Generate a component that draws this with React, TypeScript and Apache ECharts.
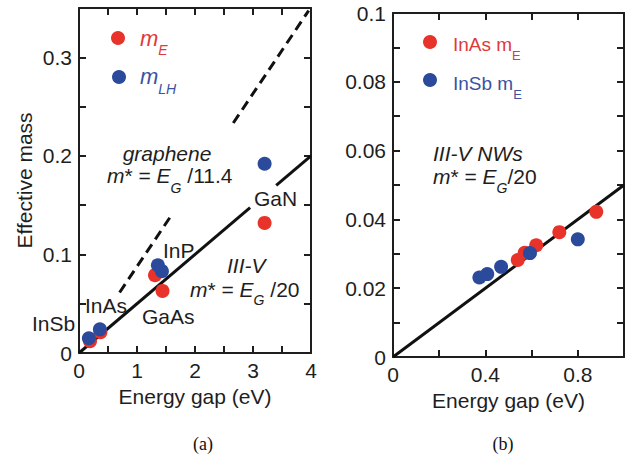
import React, { useEffect, useRef } from "react";
import * as echarts from "echarts";

// ---------- data ----------
// (a) bulk semiconductors
const bulkGapE = [0.19, 0.37, 1.31, 1.44, 3.2];
const bulkMassE = [0.012, 0.021, 0.079, 0.063, 0.132];
const bulkGapLH = [0.17, 0.36, 1.36, 1.43, 3.2];
const bulkMassLH = [0.015, 0.024, 0.089, 0.083, 0.192];
// (b) nanowires
const nwGapInAs = [0.54, 0.57, 0.62, 0.72, 0.88];
const nwMassInAs = [0.0282, 0.0303, 0.0325, 0.0363, 0.0422];
const nwGapInSb = [0.374, 0.408, 0.468, 0.593, 0.8];
const nwMassInSb = [0.0231, 0.0241, 0.0262, 0.0302, 0.0342];
// fit lines m* = E_G / k, drawn over these E_G segments
const slopeIII_V = 20;
const slopeGraphene = 11.4;
const solidSegmentsA = [[0, 2.95], [3.4, 4]];
const dashedSegmentsA = [[0.7, 1.6], [2.66, 3.96]];
const solidSegmentsB = [[0, 1]];
// axis tick labels
const xTicksA = ["0", "1", "2", "3", "4"];
const yTicksA = ["0", "0.1", "0.2", "0.3"];
const xTicksB = ["0", "0.4", "0.8"];
const yTicksB = ["0", "0.02", "0.04", "0.06", "0.08", "0.1"];

const FONT = '"Liberation Sans", Arial, Helvetica, sans-serif';
const SERIF = '"Liberation Serif", "Times New Roman", serif';
const RED = "#e8332b";
const BLUE = "#2b4a9c";
const TXT_RED = "#e0393a";
const TXT_BLUE = "#3a52a3";
const INK = "#1e1e1e";

const pick = (labels: string[]) => (v: number) => {
  const s = String(+v.toFixed(6));
  return labels.includes(s) ? s : "";
};

function axisBase(labels: string[] | null) {
  return {
    type: "value" as const,
    splitLine: { show: false },
    axisLine: { show: true, onZero: false, lineStyle: { color: INK, width: 2 } },
    axisTick: { show: true, inside: true, length: 7, lineStyle: { color: INK, width: 2 } },
    axisLabel: labels
      ? { show: true, formatter: pick(labels), fontSize: 21, color: INK, fontFamily: FONT, margin: 7 }
      : { show: false },
  };
}

function lineSeries(segs: number[][], k: number, xi: number, dashed: boolean) {
  return segs.map((s) => ({
    type: "line",
    xAxisIndex: xi,
    yAxisIndex: xi,
    data: [
      [s[0], s[0] / k],
      [s[1], s[1] / k],
    ],
    showSymbol: false,
    symbol: "none",
    lineStyle: { color: "#111", width: 3, type: dashed ? [10, 6] : "solid" },
    z: 2,
    silent: true,
  }));
}

function scatter(xs: number[], ys: number[], color: string, xi: number, z: number) {
  return {
    type: "scatter",
    xAxisIndex: xi,
    yAxisIndex: xi,
    data: xs.map((x, i) => [x, ys[i]]),
    symbolSize: 14,
    itemStyle: { color, opacity: 1 },
    z,
    silent: true,
  };
}

function rich(x: number, baseline: number, text: string, size: number, subSize: number, drop: number, color: string, align = "left") {
  const pad = 2 * drop;
  return {
    type: "text",
    x,
    y: baseline - 0.31 * size,
    silent: true,
    style: {
      text,
      align,
      verticalAlign: "middle",
      fontFamily: FONT,
      fontSize: size,
      fill: color,
      rich: {
        i: { fontStyle: "italic", fontSize: size, fill: color, fontFamily: FONT },
        n: { fontSize: size, fill: color, fontFamily: FONT },
        s: { fontStyle: "italic", fontSize: subSize, fill: color, fontFamily: FONT, padding: [pad, 0, 0, 0], lineHeight: size },
        sn: { fontSize: subSize, fill: color, fontFamily: FONT, padding: [pad, 0, 0, 0], lineHeight: size },
      },
    },
  };
}

function plain(x: number, baseline: number, text: string, size: number, color: string, italic = false, align = "left", family = FONT) {
  return {
    type: "text",
    x,
    y: baseline - 0.31 * size,
    silent: true,
    style: {
      text,
      align,
      verticalAlign: "middle",
      fontFamily: family,
      fontSize: size,
      fontStyle: italic ? "italic" : "normal",
      fill: color,
    },
  };
}

export default function App() {
  const ref = useRef<HTMLDivElement>(null);
  useEffect(() => {
    if (!ref.current) return;
    const chart = echarts.init(ref.current, null, { renderer: "svg" });
    const option: any = {
      animation: false,
      backgroundColor: "#ffffff",
      grid: [
        { left: 79, top: 8, width: 232, height: 345 },
        { left: 393, top: 13, width: 231, height: 344 },
      ],
      xAxis: [
        {
          ...axisBase(xTicksA),
          gridIndex: 0,
          position: "bottom",
          min: 0,
          max: 4,
          interval: 0.5,
          name: "Energy gap (eV)",
          nameLocation: "middle",
          nameGap: 33,
          nameTextStyle: { fontSize: 21, color: INK, fontFamily: FONT },
        },
        { ...axisBase(null), gridIndex: 0, position: "top", min: 0, max: 4, interval: 0.5 },
        {
          ...axisBase(xTicksB),
          gridIndex: 1,
          position: "bottom",
          min: 0,
          max: 1,
          interval: 0.2,
          name: "Energy gap (eV)",
          nameLocation: "middle",
          nameGap: 32,
          nameTextStyle: { fontSize: 21, color: INK, fontFamily: FONT },
        },
        { ...axisBase(null), gridIndex: 1, position: "top", min: 0, max: 1, interval: 0.2 },
      ],
      yAxis: [
        {
          ...axisBase(yTicksA),
          gridIndex: 0,
          position: "left",
          min: 0,
          max: 0.35,
          interval: 0.05,
          name: "Effective mass",
          nameLocation: "middle",
          nameGap: 44,
          nameTextStyle: { fontSize: 21, color: INK, fontFamily: FONT },
        },
        { ...axisBase(null), gridIndex: 0, position: "right", min: 0, max: 0.35, interval: 0.05 },
        { ...axisBase(yTicksB), gridIndex: 1, position: "left", min: 0, max: 0.1, interval: 0.01 },
        { ...axisBase(null), gridIndex: 1, position: "right", min: 0, max: 0.1, interval: 0.01 },
      ],
      series: [
        ...lineSeries(solidSegmentsA, slopeIII_V, 0, false),
        ...lineSeries(dashedSegmentsA, slopeGraphene, 0, true),
        ...lineSeries(solidSegmentsB, slopeIII_V, 2, false).map((s) => ({ ...s, yAxisIndex: 2 })),
        scatter(bulkGapE, bulkMassE, RED, 0, 3),
        scatter(bulkGapLH, bulkMassLH, BLUE, 0, 4),
        { ...scatter(nwGapInAs, nwMassInAs, RED, 2, 3), yAxisIndex: 2 },
        { ...scatter(nwGapInSb, nwMassInSb, BLUE, 2, 4), yAxisIndex: 2 },
      ],
      graphic: [
        // (a) legend
        { type: "circle", silent: true, shape: { cx: 118, cy: 38, r: 7 }, style: { fill: RED } },
        { type: "circle", silent: true, shape: { cx: 119, cy: 77, r: 7 }, style: { fill: BLUE } },
        rich(140, 45, "{i|m}{s|E}", 22, 14, 12, TXT_RED),
        rich(140, 83, "{i|m}{s|LH}", 22, 14, 13, TXT_BLUE),
        plain(167, 160, "graphene", 21, INK, true, "center"),
        rich(107, 182, "{i|m}{n|* = }{i|E}{s|G}{n| /11.4}", 21, 14, 13, INK),
        plain(32, 330, "InSb", 21, INK),
        plain(85, 312, "InAs", 21, INK),
        plain(142, 323, "GaAs", 21, INK),
        plain(163, 257, "InP", 21, INK),
        plain(254, 205, "GaN", 21, INK),
        plain(227, 272, "III-V", 21, INK, true),
        rich(190, 296, "{i|m}{n|* = }{i|E}{s|G}{n| /20}", 21, 14, 11, INK),
        // (b) legend
        { type: "circle", silent: true, shape: { cx: 430, cy: 42, r: 7 }, style: { fill: RED } },
        { type: "circle", silent: true, shape: { cx: 430, cy: 80, r: 7 }, style: { fill: BLUE } },
        rich(453, 50, "{n|InAs m}{sn|E}", 19, 13, 11, TXT_RED),
        rich(453, 89, "{n|InSb m}{sn|E}", 19, 13, 11, TXT_BLUE),
        plain(433, 160, "III-V NWs", 21, INK, true),
        rich(433, 183, "{i|m}{n|* = }{i|E}{s|G}{n|/20}", 21, 14, 12, INK),
        // panel captions
        plain(203, 450, "(a)", 18, "#111", false, "center", SERIF),
        plain(503, 450, "(b)", 18, "#111", false, "center", SERIF),
      ],
    };
    chart.setOption(option);
    return () => chart.dispose();
  }, []);
  return (
    <div
      ref={ref}
      style={{ position: "fixed", left: 0, top: 0, width: 644, height: 456, background: "#fff" }}
    />
  );
}
